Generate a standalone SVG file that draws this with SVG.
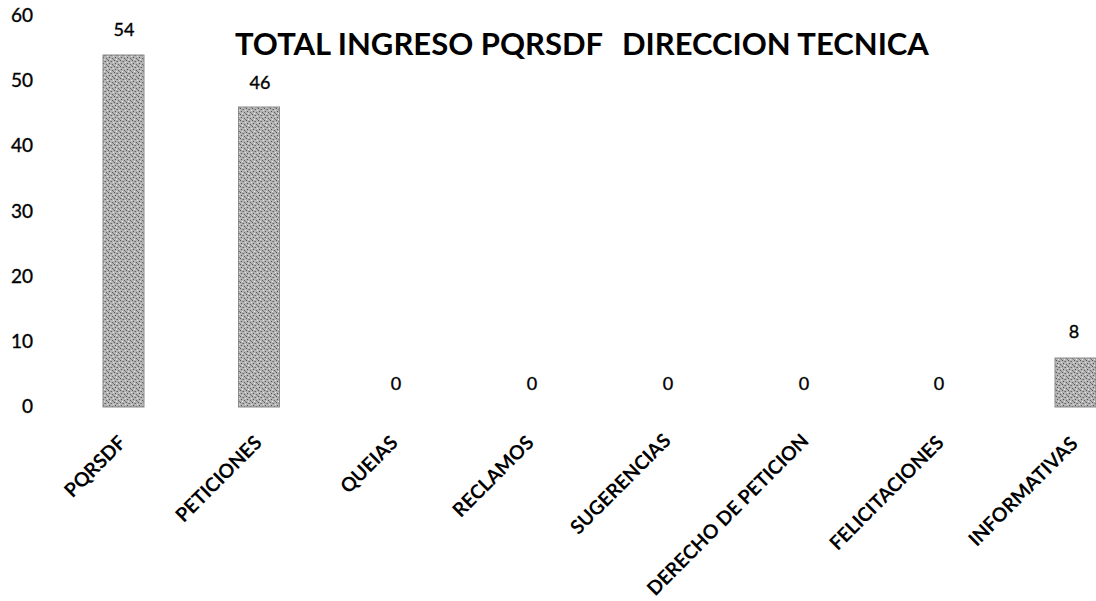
<svg xmlns="http://www.w3.org/2000/svg" width="1096" height="601" viewBox="0 0 1096 601">
  <defs>
    <pattern id="halftone" width="6" height="6" patternUnits="userSpaceOnUse">
      <rect width="6" height="6" fill="#b4b4b4"/>
      <rect x="0" y="0" width="1" height="1" fill="#555"/>
      <rect x="3" y="1" width="1" height="1" fill="#666"/>
      <rect x="1" y="3" width="1" height="1" fill="#505050"/>
      <rect x="4" y="4" width="1" height="1" fill="#606060"/>
      <rect x="5" y="2" width="1" height="1" fill="#e0e0e0"/>
      <rect x="2" y="5" width="1" height="1" fill="#e8e8e8"/>
      <rect x="2" y="1" width="1" height="1" fill="#888"/>
      <rect x="5" y="5" width="1" height="1" fill="#7a7a7a"/>
    </pattern>
  </defs>
  <style>
    .title { font-family: Lato, "Liberation Sans", sans-serif; font-weight: bold; font-size: 31px; fill: #000; }
    .axis { font-family: Lato, "Liberation Sans", sans-serif; font-size: 19px; fill: #000; stroke: #000; stroke-width: 0.35; text-anchor: end; }
    .val { font-family: Lato, "Liberation Sans", sans-serif; font-size: 18px; fill: #000; stroke: #000; stroke-width: 0.35; text-anchor: middle; }
    .cat { font-family: Lato, "Liberation Sans", sans-serif; font-weight: bold; font-size: 19.5px; fill: #000; text-anchor: end; }
    .bar { fill: url(#halftone); stroke: #8a8a8a; stroke-width: 1; }
  </style>
  <rect width="1096" height="601" fill="#fff"/>

  <text class="title" x="235" y="55">TOTAL INGRESO PQRSDF<tspan x="622">DIRECCION TECNICA</tspan></text>

  <g id="y-axis">
    <text class="axis" x="33" y="22">60</text>
    <text class="axis" x="33" y="87">50</text>
    <text class="axis" x="33" y="152">40</text>
    <text class="axis" x="33" y="218">30</text>
    <text class="axis" x="33" y="283">20</text>
    <text class="axis" x="33" y="348">10</text>
    <text class="axis" x="33" y="413">0</text>
  </g>

  <g id="bars">
    <rect id="bar-pqrsdf" class="bar" x="103" y="55" width="41" height="352"/>
    <rect id="bar-peticiones" class="bar" x="238.5" y="107" width="41" height="300"/>
    <rect id="bar-informativas" class="bar" x="1055" y="358" width="41" height="49"/>
  </g>

  <g id="values">
    <text class="val" x="124" y="36">54</text>
    <text class="val" x="260" y="89">46</text>
    <text class="val" x="396" y="390">0</text>
    <text class="val" x="532" y="390">0</text>
    <text class="val" x="668" y="390">0</text>
    <text class="val" x="804" y="390">0</text>
    <text class="val" x="939" y="390">0</text>
    <text class="val" x="1074" y="338">8</text>
  </g>

  <g id="categories">
    <text class="cat" transform="translate(127,444) rotate(-45)">PQRSDF</text>
    <text class="cat" transform="translate(263,444) rotate(-45)">PETICIONES</text>
    <text class="cat" transform="translate(399,444) rotate(-45)">QUEIAS</text>
    <text class="cat" transform="translate(535,444) rotate(-45)">RECLAMOS</text>
    <text class="cat" transform="translate(672,442) rotate(-45)">SUGERENCIAS</text>
    <text class="cat" transform="translate(810,442) rotate(-45)">DERECHO DE PETICION</text>
    <text class="cat" transform="translate(945,444) rotate(-45)">FELICITACIONES</text>
    <text class="cat" transform="translate(1079,445) rotate(-45)">INFORMATIVAS</text>
  </g>
</svg>
